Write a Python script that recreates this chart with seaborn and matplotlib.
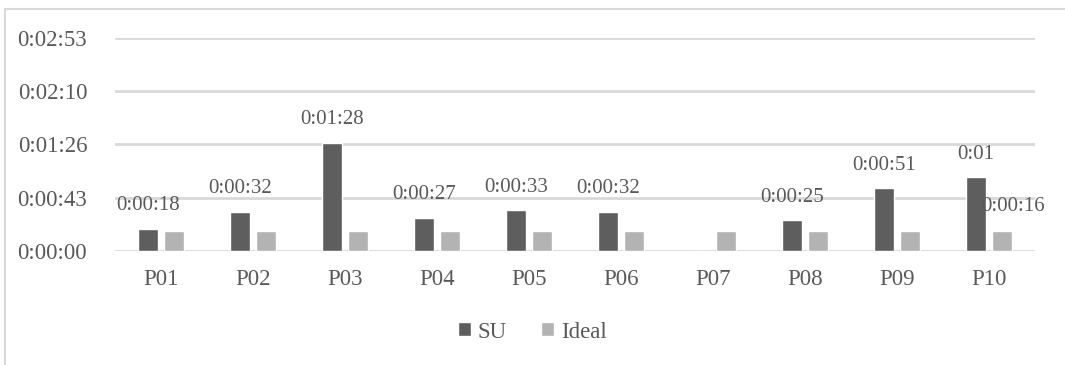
import matplotlib
matplotlib.use("Agg")
import matplotlib.pyplot as plt
import matplotlib.ticker as mticker
from matplotlib.patches import Rectangle
import seaborn as sns
import pandas as pd

participants = ["P01", "P02", "P03", "P04", "P05", "P06", "P07", "P08", "P09", "P10"]
su_seconds = [18, 32, 88, 27, 33, 32, 0, 25, 51, 60]
ideal_seconds = [16, 16, 16, 16, 16, 16, 16, 16, 16, 16]
su_labels = ["0:00:18", "0:00:32", "0:01:28", "0:00:27", "0:00:33", "0:00:32", "", "0:00:25", "0:00:51", "0:01"]
ideal_labels = ["", "", "", "", "", "", "", "", "", "0:00:16"]
series_names = ["SU", "Ideal"]
y_ticks = [0, 43.2, 86.4, 129.6, 172.8]

df = pd.DataFrame({
    "participant": participants * 2,
    "seconds": su_seconds + ideal_seconds,
    "series": [series_names[0]] * len(participants) + [series_names[1]] * len(participants),
})

sns.set_theme(style="white")
plt.rcParams["font.family"] = ["Liberation Serif", "DejaVu Serif"]
text_color = "#595959"
grid_color = "#d9d9d9"

fig = plt.figure(figsize=(10.65, 3.65), dpi=100)
ax = fig.add_axes([115 / 1065, 1 - 251 / 365, 920 / 1065, 213 / 365])

sns.barplot(data=df, x="participant", y="seconds", hue="series",
            palette=["#5e5e5e", "#b3b3b3"], width=0.565, gap=0.23,
            saturation=1, ax=ax, legend=True)

ax.set_ylim(0, y_ticks[-1])
ax.set_xlim(-0.5, len(participants) - 0.5)
ax.set_yticks(y_ticks)


def fmt_time(v, pos=None):
    s = int(round(v))
    return f"{s // 3600}:{(s % 3600) // 60:02d}:{s % 60:02d}"


ax.yaxis.set_major_formatter(mticker.FuncFormatter(fmt_time))
ax.grid(axis="y", color=grid_color, linewidth=2)
ax.set_axisbelow(True)
for sp in ax.spines.values():
    sp.set_visible(False)
ax.tick_params(axis="both", length=0, colors=text_color, labelsize=16.5)
ax.tick_params(axis="y", pad=20)
ax.tick_params(axis="x", pad=13)
ax.set_xlabel("")
ax.set_ylabel("")

su_container, ideal_container = ax.containers[0], ax.containers[1]
for patch, lab in zip(su_container.patches, su_labels):
    if lab:
        ax.annotate(lab, (patch.get_x() + patch.get_width() / 2, patch.get_height()),
                    xytext=(0, 16.5), textcoords="offset points",
                    ha="center", va="center", fontsize=15, color=text_color)
for patch, lab in zip(ideal_container.patches, ideal_labels):
    if lab:
        ax.annotate(lab, (patch.get_x() + patch.get_width() / 2, patch.get_height()),
                    xytext=(8, 18), textcoords="offset points",
                    ha="center", va="center", fontsize=15, color=text_color)

handles, labels = ax.get_legend_handles_labels()
ax.get_legend().remove()
fig.legend(handles, labels, loc="center", bbox_to_anchor=(0.5, 1 - 332 / 365),
           ncol=2, frameon=False, fontsize=16.5, handlelength=0.55, handleheight=0.55,
           handletextpad=0.3, columnspacing=1.5, labelcolor=text_color)

fig.patches.append(Rectangle((5 / 1065, -0.1), 1.2, 1 - 9 / 365 + 0.1,
                             transform=fig.transFigure, fill=False,
                             edgecolor=grid_color, linewidth=1.5))

fig.savefig("out.png", dpi=100)
